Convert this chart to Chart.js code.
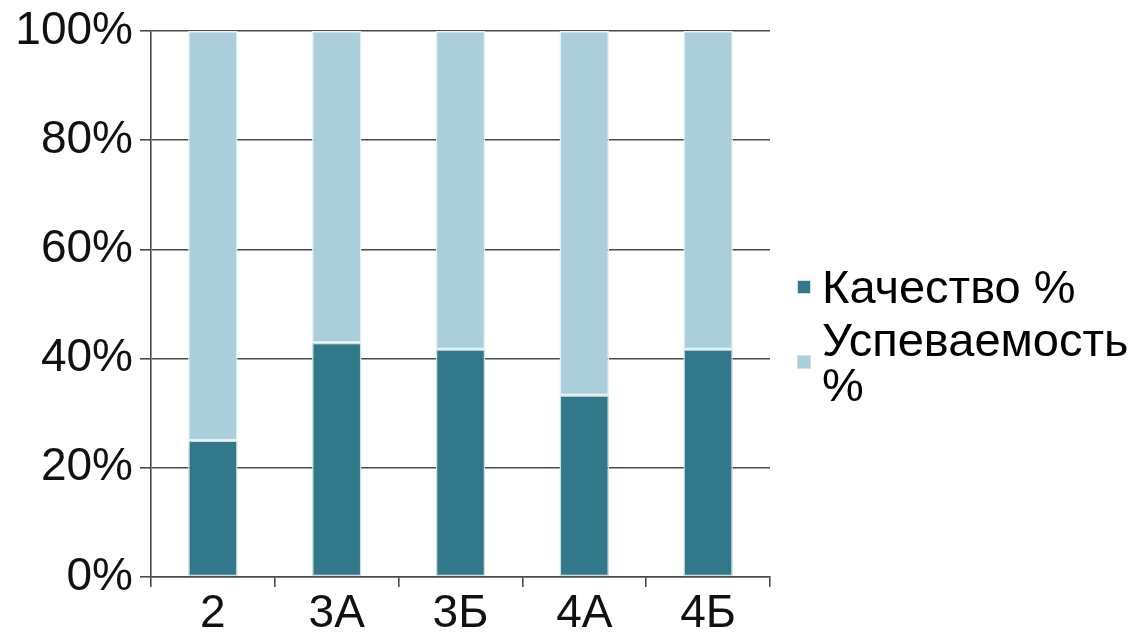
<!DOCTYPE html>
<html>
<head>
<meta charset="utf-8">
<script src="https://cdn.jsdelivr.net/npm/chart.js@4"></script>
<style>
  body { margin: 0; background: #fff; }
  #wrap { position: relative; width: 1142px; height: 638px; }
  #legend { position: absolute; left: 797px; top: 264px; font-family: "Liberation Sans", Arial, sans-serif; font-size: 47px; color: #000; }
  .item { display: flex; align-items: center; margin-bottom: 8px; }
  .box { width: 14px; height: 14px; margin-right: 11px; flex: none; border: 1px solid #d6dfe2; box-sizing: border-box; }
  .txt { width: 320px; line-height: 45px; }
</style>
</head>
<body>
<div id="wrap">
  <canvas id="chart" width="1142" height="638"></canvas>
  <div id="legend"></div>
</div>
<script>
const classes = ['2', '3А', '3Б', '4А', '4Б'];
const quality = [25, 42.9, 41.7, 33.3, 41.7];
const success = [75, 57.1, 58.3, 66.7, 58.3];
const seriesNames = ['Качество %', 'Успеваемость %'];
const yTicks = [0, 20, 40, 60, 80, 100];

const colors = ['#31798a', '#aacfda'];
const font = { family: '"Liberation Sans", Arial, sans-serif', size: 46, lineHeight: 1 };

const ctx = document.getElementById('chart').getContext('2d');
const chart = new Chart(ctx, {
    type: 'bar',
    data: {
        labels: classes,
        datasets: [
            {
                label: seriesNames[0],
                data: quality,
                backgroundColor: colors[0],
                borderColor: '#cfdde1',
                borderWidth: 1.5,
                borderSkipped: false,
                barPercentage: 0.4,
                categoryPercentage: 1,
            },
            {
                label: seriesNames[1],
                data: success,
                backgroundColor: colors[1],
                borderColor: '#e2f2f6',
                borderWidth: 1.5,
                borderSkipped: false,
                barPercentage: 0.4,
                categoryPercentage: 1,
            },
        ],
    },
    options: {
        responsive: false,
        animation: false,
        devicePixelRatio: 1,
        layout: { padding: { top: 31, right: 372, left: 0, bottom: 0 } },
        plugins: { legend: { display: false }, tooltip: { enabled: false } },
        scales: {
            x: {
                stacked: true,
                afterFit: (s) => { s.height = 61; },
                grid: { drawOnChartArea: false, color: '#4a4a4a', lineWidth: 1.6, tickLength: 10 },
                border: { color: '#4a4a4a', width: 1.6 },
                ticks: { color: '#111', font: font, padding: 4 },
            },
            y: {
                stacked: true,
                min: 0,
                max: 100,
                afterFit: (s) => { s.width = 151; },
                afterBuildTicks: (s) => { s.ticks = yTicks.map(v => ({ value: v })); },
                grid: { color: '#4a4a4a', lineWidth: 1.6, tickLength: 11 },
                border: { color: '#4a4a4a', width: 1.6 },
                ticks: { color: '#111', font: font, padding: 7, callback: (v) => v + '%' },
            },
        },
    },
});

// legend on the right, wrapped like the original
const legend = document.getElementById('legend');
chart.data.datasets.forEach((ds) => {
    const item = document.createElement('div');
    item.className = 'item';
    item.innerHTML = '<span class="box" style="background:' + ds.backgroundColor + '"></span><span class="txt">' + ds.label + '</span>';
    legend.appendChild(item);
});
</script>
</body>
</html>
